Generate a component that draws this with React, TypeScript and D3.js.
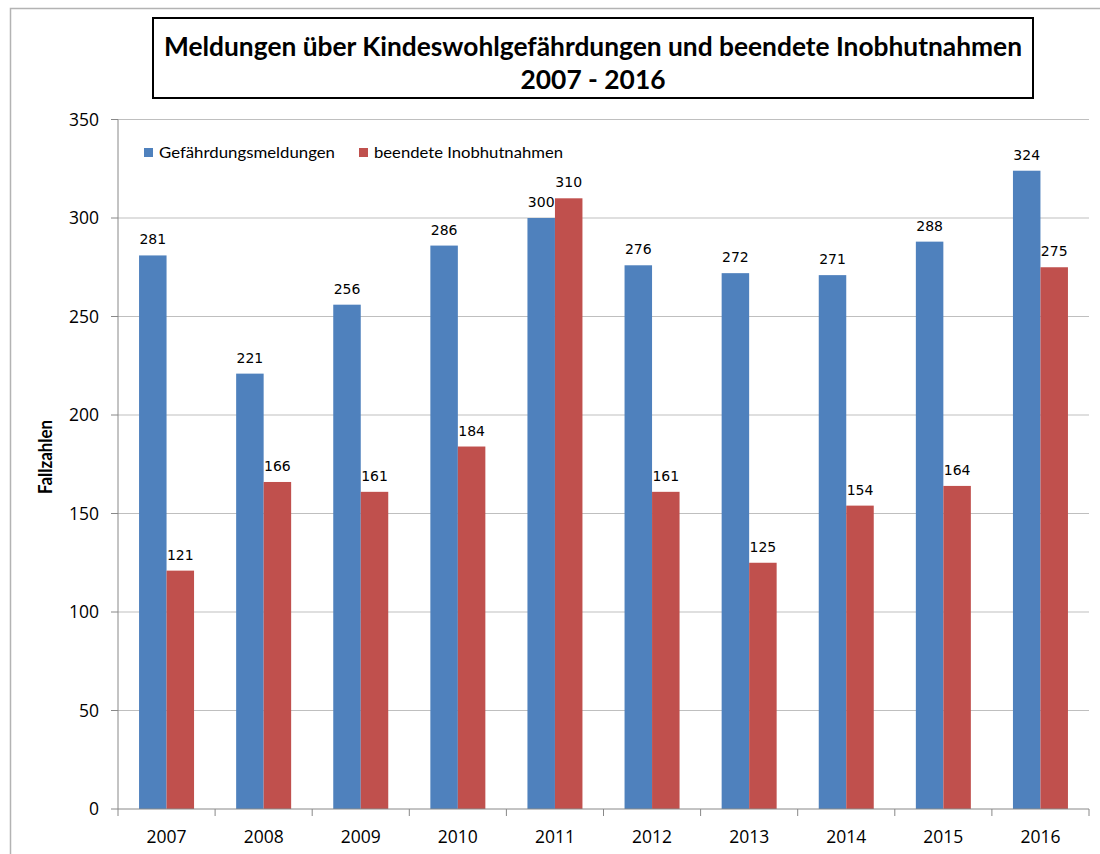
import React from "react";
import * as d3 from "d3";

const years = ["2007", "2008", "2009", "2010", "2011", "2012", "2013", "2014", "2015", "2016"];
const meldungen = [281, 221, 256, 286, 300, 276, 272, 271, 288, 324];
const inobhut = [121, 166, 161, 184, 310, 161, 125, 154, 164, 275];
const yTicks = [0, 50, 100, 150, 200, 250, 300, 350];
const seriesNames = ["Gefährdungsmeldungen", "beendete Inobhutnahmen"];
const seriesColors = ["#4F81BD", "#C0504D"];
const titleLines = ["Meldungen über Kindeswohlgefährdungen und beendete Inobhutnahmen", "2007 - 2016"];
const yLabel = "Fallzahlen";

const W = 1100;
const H = 854;
const plot = { left: 118, right: 1089, top: 119.5, bottom: 809 };

export default function App() {
  const x = d3.scaleBand<string>().domain(years).range([plot.left, plot.right]);
  const y = d3.scaleLinear().domain([0, 350]).range([plot.bottom, plot.top]);
  const barW = 27.5;
  const series = [meldungen, inobhut];
  const labelFont = "Lato, 'Open Sans', sans-serif";
  const tickFont = "'Open Sans', Lato, sans-serif";

  return (
    <svg width={W} height={H} style={{ position: "absolute", left: 0, top: 0, background: "#fff" }}>
      <rect x={10.5} y={8.5} width={W} height={H} fill="#fff" stroke="#b3b3b3" strokeWidth={1.5} />
      {/* title box */}
      <rect x={153} y={18} width={880} height={80} fill="#fff" stroke="#000" strokeWidth={2} />
      <text x={593} y={56} textAnchor="middle" fontFamily={labelFont} fontWeight="bold" fontSize={26} fill="#000" textLength={858} lengthAdjust="spacingAndGlyphs">
        {titleLines[0]}
      </text>
      <text x={593} y={89} textAnchor="middle" fontFamily={labelFont} fontWeight="bold" fontSize={26} fill="#000" textLength={145} lengthAdjust="spacingAndGlyphs">
        {titleLines[1]}
      </text>
      {/* gridlines */}
      {yTicks.map((t) => (
        <g key={t}>
          {t > 0 && <line x1={plot.left} x2={plot.right} y1={y(t)} y2={y(t)} stroke="#bfbfbf" strokeWidth={1} />}
          <line x1={plot.left - 7} x2={plot.left} y1={y(t)} y2={y(t)} stroke="#888" strokeWidth={1} />
          <text x={plot.left - 19} y={y(t) + 6} textAnchor="end" fontFamily={tickFont} fontSize={17.5} fill="#000">
            {t}
          </text>
        </g>
      ))}
      {/* bars */}
      {years.map((yr, i) => {
        const c = (x(yr) as number) + x.bandwidth() / 2;
        return (
          <g key={yr}>
            {series.map((s, j) => {
              const bx = c - barW + j * barW;
              return (
                <g key={j}>
                  <rect x={bx} y={y(s[i])} width={barW} height={plot.bottom - y(s[i])} fill={seriesColors[j]} />
                  <text x={bx + barW / 2} y={y(s[i]) - 11} textAnchor="middle" fontFamily="Verdana, 'DejaVu Sans', sans-serif" fontSize={14} fill="#000">
                    {s[i]}
                  </text>
                </g>
              );
            })}
            <text x={c} y={843} textAnchor="middle" fontFamily={tickFont} fontSize={17.5} fill="#000">
              {yr}
            </text>
          </g>
        );
      })}
      {/* axes */}
      <line x1={plot.left} x2={plot.left} y1={plot.top} y2={plot.bottom} stroke="#888" strokeWidth={1} />
      <line x1={plot.left} x2={plot.right} y1={plot.bottom} y2={plot.bottom} stroke="#888" strokeWidth={1} />
      {years.concat(["end"]).map((_, i) => {
        const tx = plot.left + i * x.step();
        return <line key={i} x1={tx} x2={tx} y1={plot.bottom} y2={plot.bottom + 7} stroke="#888" strokeWidth={1} />;
      })}
      {/* y label */}
      <text transform={`translate(52,457) rotate(-90)`} textAnchor="middle" fontFamily={labelFont} fontWeight="bold" fontSize={18} fill="#000" textLength={74} lengthAdjust="spacingAndGlyphs">
        {yLabel}
      </text>
      {/* legend */}
      {seriesNames.map((n, j) => {
        const lx = j === 0 ? 144 : 359;
        const len = j === 0 ? 176 : 189;
        return (
          <g key={n}>
            <rect x={lx} y={148} width={9} height={9} fill={seriesColors[j]} />
            <text x={lx + 15} y={158} fontFamily={labelFont} fontSize={16} fill="#000" textLength={len} lengthAdjust="spacingAndGlyphs">
              {n}
            </text>
          </g>
        );
      })}
    </svg>
  );
}
